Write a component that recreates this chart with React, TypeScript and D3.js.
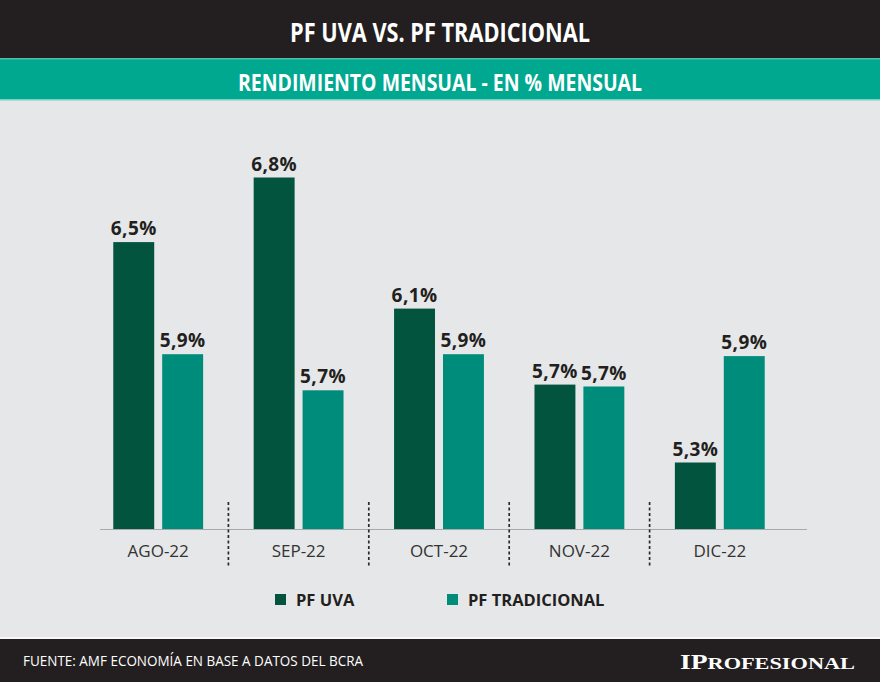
import React from 'react';
import * as d3 from 'd3';

const months = ['AGO-22', 'SEP-22', 'OCT-22', 'NOV-22', 'DIC-22'];
const seriesNames = ['PF UVA', 'PF TRADICIONAL'];
const pfUva = [6.47, 6.81, 6.12, 5.72, 5.31];
const pfTradicional = [5.88, 5.69, 5.88, 5.71, 5.87];

const colors = ['#03543f', '#008c7a'];
const W = 880;
const H = 682;
const sans = "'Open Sans', 'Noto Sans', sans-serif";

const fmt = (v: number) => v.toFixed(1).replace('.', ',') + '%';

export default function App() {
  // outer band for months, inner band for the two series
  const x = d3.scaleBand<string>()
    .domain(months)
    .range([88, 790])
    .paddingInner(0.36)
    .paddingOuter(0.18);

  const xInner = d3.scaleBand<string>()
    .domain(seriesNames)
    .range([0, x.bandwidth()])
    .paddingInner(0.163);

  const baseY = 529;
  const y = d3.scaleLinear().domain([4.96, 7.0]).range([baseY, baseY - 2.04 * 190]);

  const rows = months.map((m, i) => ({ month: m, values: [pfUva[i], pfTradicional[i]] }));
  const step = x.step();

  return (
    <svg width={W} height={H} style={{ position: 'absolute', left: 0, top: 0 }}>
      <rect x={0} y={0} width={W} height={H} fill="#e6e7e8" />

      {/* header */}
      <rect x={0} y={0} width={W} height={58} fill="#231f20" />
      <text x={W / 2} y={42} textAnchor="middle" fill="#fff" fontFamily={sans} fontWeight={700}
        fontSize={27} textLength={300} lengthAdjust="spacingAndGlyphs">PF UVA VS. PF TRADICIONAL</text>

      <rect x={0} y={58} width={W} height={42} fill="#00a88f" />
      <rect x={0} y={58} width={W} height={1.5} fill="#4fbfae" />
      <rect x={0} y={99} width={W} height={1.5} fill="#7acfc2" />
      <text x={W / 2} y={91} textAnchor="middle" fill="#fff" fontFamily={sans} fontWeight={700}
        fontSize={24} textLength={404} lengthAdjust="spacingAndGlyphs">RENDIMIENTO MENSUAL - EN % MENSUAL</text>

      {/* baseline */}
      <line x1={100} x2={807} y1={baseY + 0.5} y2={baseY + 0.5} stroke="#a7a9ac" strokeWidth={1.2} />

      {/* separators */}
      {months.slice(0, -1).map(m => {
        const sx = (x(m) as number) + x.bandwidth() + (step - x.bandwidth()) / 2;
        return (
          <line key={'sep' + m} x1={sx} x2={sx} y1={502} y2={566}
            stroke="#2a2a2a" strokeWidth={1.7} strokeDasharray="3,2.5" />
        );
      })}

      {rows.map(r => (
        <g key={r.month} transform={`translate(${x(r.month)},0)`}>
          {r.values.map((v, j) => {
            const bx = xInner(seriesNames[j]) as number;
            return (
              <g key={j}>
                <rect x={bx} y={y(v)} width={xInner.bandwidth()} height={baseY - y(v)} fill={colors[j]} />
                <text x={bx + xInner.bandwidth() / 2} y={y(v) - 7} textAnchor="middle" letterSpacing={0.4}
                  fontFamily={sans} fontWeight={700} fontSize={19} fill="#231f20">{fmt(v)}</text>
              </g>
            );
          })}
          <text x={x.bandwidth() / 2} y={557} textAnchor="middle" fontFamily={sans}
            fontSize={17} fill="#333">{r.month}</text>
        </g>
      ))}

      {/* legend */}
      {seriesNames.map((s, i) => {
        const lx = i === 0 ? 275 : 447;
        return (
          <g key={s}>
            <rect x={lx} y={594} width={11} height={11} fill={colors[i]} />
            <text x={lx + 21} y={606} fontFamily={sans} fontWeight={700} fontSize={16.5} fill="#231f20">{s}</text>
          </g>
        );
      })}

      {/* footer */}
      <rect x={0} y={637} width={W} height={2} fill="#f7f7f7" />
      <rect x={0} y={639} width={W} height={H - 639} fill="#231f20" />
      <text x={23} y={666} fill="#fff" fontFamily={sans} fontSize={14.5}
        textLength={340} lengthAdjust="spacingAndGlyphs">FUENTE: AMF ECONOMÍA EN BASE A DATOS DEL BCRA</text>
      <text x={855} y={669} textAnchor="end" fill="#fff" fontFamily="'Liberation Serif', 'DejaVu Serif', serif"
        fontWeight={700} fontSize={21} textLength={175} lengthAdjust="spacingAndGlyphs">
        IP<tspan fontSize={17}>ROFESIONAL</tspan>
      </text>
    </svg>
  );
}
